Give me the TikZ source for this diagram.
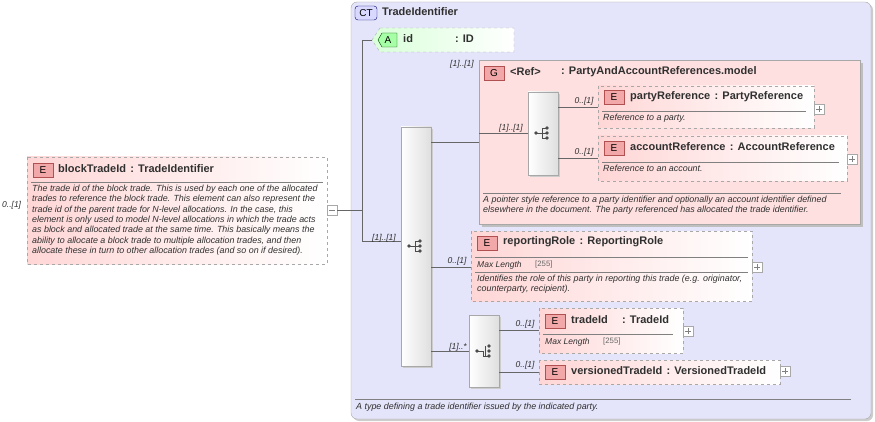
\documentclass[tikz,border=0pt]{standalone}
\usepackage{fontspec}
\setmainfont{Liberation Sans}
\definecolor{ctbg}{HTML}{E4E4FA}
\definecolor{elpink}{HTML}{FFD6D6}
\definecolor{badge}{HTML}{F2A8A8}
\definecolor{badgeb}{HTML}{B05050}
\definecolor{bord}{HTML}{A8A8A8}
\definecolor{txt}{HTML}{303030}
\begin{document}
\begin{tikzpicture}[x=1pt,y=-1pt,
  el/.style={draw=bord,dashed,left color=elpink,right color=white},
  seqbox/.style={draw=bord,left color=white,right color=gray!25},
  bdg/.style={draw=badgeb,fill=badge,inner sep=0pt,minimum width=20pt,minimum height=14pt,font=\fontsize{10}{10}\selectfont},
  ttl/.style={anchor=west,font=\bfseries\fontsize{11}{12}\selectfont,text=txt,inner sep=0pt},
  dsc/.style={anchor=north west,font=\itshape\fontsize{8.9}{10.3}\selectfont,text=txt,inner sep=0pt,align=left},
  lbl/.style={font=\itshape\fontsize{8.5}{9}\selectfont,text=txt,inner sep=0pt},
  ln/.style={draw=gray!80!black,line width=0.5pt},
  sep/.style={draw=gray,line width=0.5pt},
  pbox/.style={draw=bord,fill=white,minimum size=10pt,inner sep=0pt},
  len/.style={font=\fontsize{7.8}{8}\selectfont,text=gray!80!black,anchor=west,inner sep=0pt},
]
\useasboundingbox (0,0) rectangle (875,422);
% CT box
\fill[gray!40,rounded corners=6pt] (353,4) rectangle (873,421);
\draw[draw=bord,fill=ctbg,rounded corners=6pt] (351,2) rectangle (871,419);
\node[bdg,draw=blue!40!black,fill=blue!15,minimum width=22pt,rounded corners=3pt] (ctb) at (366,13) {CT};
\node[ttl] (ctt) at (382,12) {TradeIdentifier};
\draw[sep] (355,399) -- (851,399);
\node[dsc] (ctd) at (356,403) {A type defining a trade identifier issued by the indicated party.};
% block element
\draw[el] (27,157) rectangle (327,264);
\node[bdg] (eb) at (43,170) {E};
\node[ttl] (bt) at (58,169) {blockTradeId\hspace{0.4em}: TradeIdentifier};
\draw[sep] (31,182) -- (323,182);
\node[dsc] (bd) at (32,185) {The trade id of the block trade. This is used by each one of the allocated\\trades to reference the block trade. This element can also represent the\\trade id of the parent trade for N-level allocations. In the case, this\\element is only used to model N-level allocations in which the trade acts\\as block and allocated trade at the same time. This basically means the\\ability to allocate a block trade to multiple allocation trades, and then\\allocate these in turn to other allocation trades (and so on if desired).};
\node[lbl,anchor=west] (bl) at (2,205) {0..[1]};
\node[pbox] (bm) at (332,210) {};
\draw[gray] (329,210) -- (335,210);
\coordinate (tj) at (362,210);
\draw[ln] (bm.east) -- (tj);
\coordinate (t1) at (362,40);
\coordinate (t2) at (362,241);
\draw[ln] (t1) -- (t2);
% id attribute
\draw[draw=bord,dashed,left color=green!15,right color=white] (380,28) -- (514,28) -- (514,52) -- (380,52) -- (372,40) -- cycle;
\coordinate (idl) at (372,40);
\draw[ln] (t1) -- (idl);
\draw[draw=green!30!black,fill=green!35] (382,33) -- (397,33) -- (397,47) -- (382,47) -- (378,40) -- cycle;
\node[font=\fontsize{10}{10}\selectfont] (ab) at (388,40) {A};
\node[ttl] (idt) at (403,39) {id};
\node[ttl] (idt2) at (455,39) {: ID};
% big sequence
\fill[gray!40] (403,129) rectangle (433,368);
\draw[seqbox] (401,127) rectangle (431,366);
\coordinate (s1) at (401,241);
\draw[ln] (t2) -- (s1);
\node[lbl] (s1l) at (384,238) {[1]..[1]};
\newcommand{\seqicon}[2]{%
  \fill[black!70] (#1-7,#2) circle (1.8pt);
  \draw[black!70,line width=0.9pt] (#1-7,#2) -- (#1-1,#2) (#1-1,#2-5) -- (#1-1,#2+5) (#1-1,#2-5) -- (#1+4,#2-5) (#1-1,#2) -- (#1+4,#2) (#1-1,#2+5) -- (#1+4,#2+5);
  \fill[black!70] (#1+4,#2-5) circle (1.8pt) (#1+4,#2) circle (1.8pt) (#1+4,#2+5) circle (1.8pt);}
\seqicon{416}{246}
% group
\fill[gray!50] (482,63) rectangle (863,227);
\draw[draw=bord,fill=elpink!75] (479,60) rectangle (860,224);
\node[bdg] (gb) at (494,73) {G};
\node[ttl] (gt) at (510,72) {<Ref>};
\node[ttl] (gt2) at (561,72) {: PartyAndAccountReferences.model};
\node[lbl] (gl) at (462,64) {[1]..[1]};
\draw[ln] (431,142) -- (479,142);
\fill[gray!40] (530,94) rectangle (560,177);
\draw[seqbox] (528,92) rectangle (558,175);
\seqicon{543}{133}
\draw[ln] (479,133) -- (528,133);
\node[lbl] (gl2) at (511,128) {[1]..[1]};
\draw[sep] (483,193) -- (841,193);
\node[dsc] (gd) at (483,196) {A pointer style reference to a party identifier and optionally an account identifier defined\\elsewhere in the document. The party referenced has allocated the trade identifier.};
% partyReference
\draw[el] (598,86) rectangle (814,128);
\node[bdg] (pb) at (614,97) {E};
\node[ttl] (pt) at (630,97) {partyReference\hspace{0.4em}: PartyReference};
\draw[sep] (602,111) -- (806,111);
\node[dsc] (pd) at (603,114) {Reference to a party.};
\node[pbox] (pp) at (819,109) {};
\draw[gray] (816,109) -- (822,109) (819,106) -- (819,112);
\draw[ln] (558,107) -- (598,107);
\node[lbl] (pl) at (584,101) {0..[1]};
% accountReference
\draw[el] (598,136) rectangle (847,181);
\node[bdg] (acb) at (614,148) {E};
\node[ttl] (act) at (630,147) {accountReference\hspace{0.4em}: AccountReference};
\draw[sep] (602,162) -- (839,162);
\node[dsc] (acd) at (603,165) {Reference to an account.};
\node[pbox] (ap) at (852,159) {};
\draw[gray] (849,159) -- (855,159) (852,156) -- (852,162);
\draw[ln] (558,158) -- (598,158);
\node[lbl] (al) at (584,152) {0..[1]};
% reportingRole
\draw[el] (471,231) rectangle (752,301);
\node[bdg] (rb) at (487,243) {E};
\node[ttl] (rt) at (503,242) {reportingRole\hspace{0.4em}: ReportingRole};
\draw[sep] (475,257) -- (748,257);
\node[lbl,anchor=west] (rm) at (477,265) {Max Length};
\node[len] (rm2) at (535,264) {[255]};
\draw[sep] (475,272) -- (748,272);
\node[dsc] (rd) at (477,275) {Identifies the role of this party in reporting this trade (e.g. originator,\\counterparty, recipient).};
\node[pbox] (rp) at (757,267) {};
\draw[gray] (754,267) -- (760,267) (757,264) -- (757,270);
\draw[ln] (431,267) -- (471,267);
\node[lbl] (rl) at (457,261) {0..[1]};
% choice
\fill[gray!40] (471,317) rectangle (501,389);
\draw[seqbox] (469,315) rectangle (499,387);
\fill[black!70] (477,351) circle (1.8pt) (489,346) circle (1.8pt) (489,351) circle (1.8pt) (489,356) circle (1.8pt);
\draw[black!70,line width=0.9pt] (477,351) -- (483,351) -- (483,356) -- (489,356) (485,346) -- (485,356);
\draw[ln] (431,351) -- (469,351);
\node[lbl] (cl) at (458,347) {[1]..*};
% tradeId
\draw[el] (539,308) rectangle (683,353);
\node[bdg] (tb) at (555,321) {E};
\node[ttl] (tt) at (571,320) {tradeId};
\node[ttl] (tt2) at (622,320) {: TradeId};
\draw[sep] (543,334) -- (673,334);
\node[lbl,anchor=west] (tm) at (545,342) {Max Length};
\node[len] (tm2) at (603,341) {[255]};
\node[pbox] (tp) at (688,331) {};
\draw[gray] (685,331) -- (691,331) (688,328) -- (688,334);
\draw[ln] (499,330) -- (539,330);
\node[lbl] (tl) at (525,324) {0..[1]};
% versionedTradeId
\draw[el] (539,360) rectangle (780,384);
\node[bdg] (vb) at (555,372) {E};
\node[ttl] (vt) at (571,371) {versionedTradeId\hspace{0.4em}: VersionedTradeId};
\node[pbox] (vp) at (785,371) {};
\draw[gray] (782,371) -- (788,371) (785,368) -- (785,374);
\draw[ln] (499,372) -- (539,372);
\node[lbl] (vl) at (525,365) {0..[1]};
\end{tikzpicture}
\end{document}
